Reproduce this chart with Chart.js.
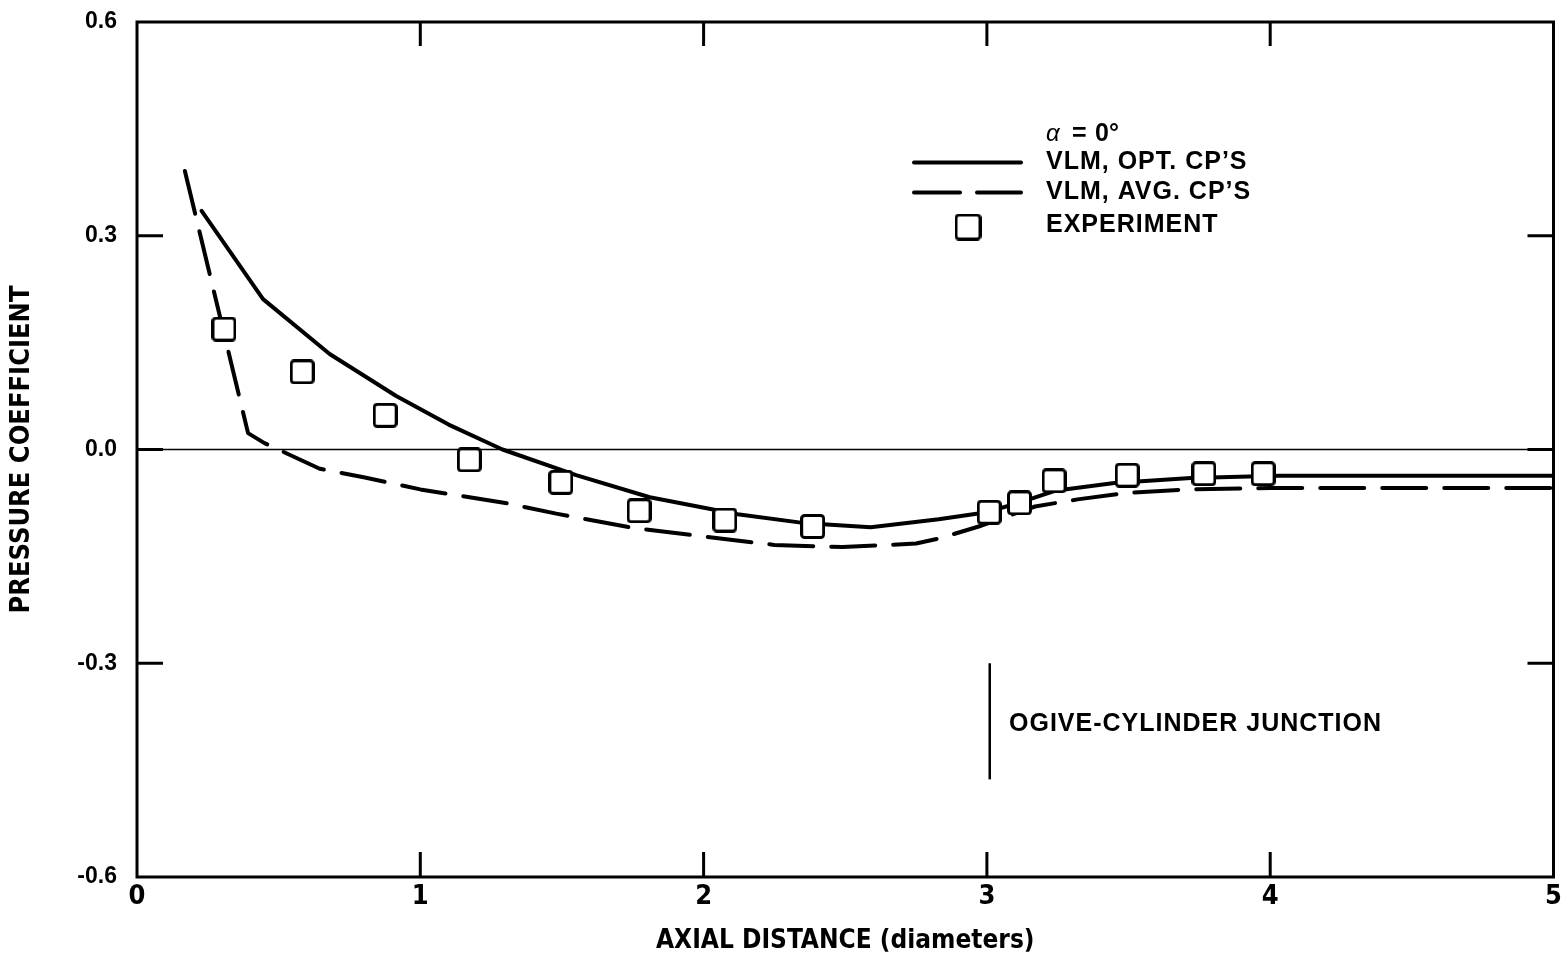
<!DOCTYPE html>
<html><head><meta charset="utf-8">
<script src="https://cdn.jsdelivr.net/npm/chart.js@4.4.1/dist/chart.umd.min.js"></script>
<style>html,body{margin:0;padding:0;background:#fff}#wrap{width:1567px;height:954px}</style>
</head><body><div id="wrap"><canvas id="c" width="1567" height="954"></canvas></div>
<script>
// ---- data ----
const xTickLabels = ['0', '1', '2', '3', '4', '5'];
const yTickLabels = ['-0.6', '-0.3', '0.0', '0.3', '0.6'];
const xTitle = 'AXIAL DISTANCE (diameters)';
const yTitle = 'PRESSURE COEFFICIENT';

const optX = [0.228, 0.445, 0.68, 0.915, 1.10, 1.29, 1.55, 1.81, 2.12, 2.35, 2.59, 2.83, 3.0, 3.12, 3.24, 3.45, 3.72, 4.03, 5.0];
const optY = [0.335, 0.211, 0.134, 0.075, 0.035, 0.0, -0.036, -0.067, -0.091, -0.103, -0.109, -0.098, -0.088, -0.074, -0.058, -0.047, -0.040, -0.037, -0.037];

const avgX = [0.169, 0.392, 0.45, 0.645, 0.80, 1.0, 1.30, 1.48, 1.75, 1.98, 2.25, 2.49, 2.75, 2.83, 2.98, 3.17, 3.32, 3.49, 3.71, 4.0, 5.0];
const avgY = [0.391, 0.023, 0.009, -0.027, -0.039, -0.056, -0.075, -0.090, -0.110, -0.121, -0.134, -0.137, -0.132, -0.125, -0.107, -0.080, -0.070, -0.061, -0.056, -0.054, -0.054];

const expX = [0.307, 0.583, 0.876, 1.173, 1.496, 1.772, 2.075, 2.385, 3.008, 3.115, 3.237, 3.495, 3.766, 3.975];
const expY = [0.169, 0.109, 0.048, -0.0145, -0.046, -0.086, -0.099, -0.108, -0.088, -0.075, -0.044, -0.036, -0.034, -0.034];

const legendHeader = ['α', '=', '0°'];
const legendLabels = ['VLM, OPT. CP’S', 'VLM, AVG. CP’S', 'EXPERIMENT'];
const junctionLabel = 'OGIVE-CYLINDER JUNCTION';
const junctionX = 3.01;
const junctionYRange = [-0.3, -0.463];

// ---- helpers ----
const pts = (xs, ys) => xs.map((x, i) => ({x, y: ys[i]}));
const NARROW = '"Liberation Sans Narrow", "DejaVu Sans Condensed", "Liberation Sans", sans-serif';
const SANS = '"Liberation Sans", Arial, Helvetica, sans-serif';

function squareImage(size, lw, r) {
  const c = document.createElement('canvas');
  c.width = size; c.height = size;
  const g = c.getContext('2d');
  g.fillStyle = '#fff'; g.strokeStyle = '#000'; g.lineWidth = lw;
  g.beginPath();
  g.roundRect(lw / 2, lw / 2, size - lw, size - lw, r);
  g.fill(); g.stroke();
  return c;
}
const markerImg = squareImage(25, 3, 3);
const legendMarkerImg = squareImage(27, 3, 3);

const framePlugin = {
  id: 'frame',
  beforeDatasetsDraw(chart) {
    const {ctx, chartArea: a, scales: {x, y}} = chart;
    ctx.save();
    ctx.strokeStyle = '#000';
    const y0 = y.getPixelForValue(0);
    ctx.lineWidth = 1.5;
    ctx.beginPath(); ctx.moveTo(a.left, y0); ctx.lineTo(a.right, y0); ctx.stroke();
    ctx.lineWidth = 3;
    ctx.beginPath();
    xTickLabels.slice(1, -1).forEach(t => {
      const px = x.getPixelForValue(parseFloat(t));
      ctx.moveTo(px, a.bottom); ctx.lineTo(px, a.bottom - 25);
      ctx.moveTo(px, a.top); ctx.lineTo(px, a.top + 24);
    });
    yTickLabels.slice(1, -1).forEach(t => {
      const py = y.getPixelForValue(parseFloat(t));
      ctx.moveTo(a.left, py); ctx.lineTo(a.left + 26, py);
      ctx.moveTo(a.right, py); ctx.lineTo(a.right - 26, py);
    });
    ctx.stroke();
    ctx.strokeRect(a.left, a.top, a.right - a.left, a.bottom - a.top);
    ctx.restore();
  },
  afterDatasetsDraw(chart) {
    const {ctx, scales: {x, y}} = chart;
    ctx.save();
    ctx.fillStyle = '#000'; ctx.strokeStyle = '#000';
    ctx.textBaseline = 'middle'; ctx.textAlign = 'left';
    ctx.font = 'italic 24px ' + SANS;
    ctx.fillText(legendHeader[0], 1046, 134);
    ctx.font = 'bold 25px ' + SANS;
    ctx.fillText(legendHeader[1], 1072, 134);
    ctx.fillText(legendHeader[2], 1095, 134);
    const rows = [162.5, 192.5, 225];
    ctx.letterSpacing = '1px';
    legendLabels.forEach((t, i) => ctx.fillText(t, 1046, rows[i]));
    ctx.letterSpacing = '0px';
    ctx.lineWidth = 4; ctx.lineCap = 'round';
    ctx.beginPath(); ctx.moveTo(914, rows[0]); ctx.lineTo(1021, rows[0]); ctx.stroke();
    ctx.beginPath(); ctx.moveTo(914, rows[1]); ctx.lineTo(960, rows[1]);
    ctx.moveTo(977, rows[1]); ctx.lineTo(1021, rows[1]); ctx.stroke();
    ctx.drawImage(legendMarkerImg, 968 - 13.5, 227 - 13.5);
    const jx = x.getPixelForValue(junctionX);
    ctx.lineWidth = 2.5; ctx.lineCap = 'butt';
    ctx.beginPath();
    ctx.moveTo(jx, y.getPixelForValue(junctionYRange[0]));
    ctx.lineTo(jx, y.getPixelForValue(junctionYRange[1]));
    ctx.stroke();
    ctx.font = 'bold 25px ' + SANS;
    ctx.letterSpacing = '1px';
    ctx.fillText(junctionLabel, 1009, 724);
    ctx.restore();
  }
};

new Chart(document.getElementById('c'), {
  type: 'scatter',
  data: {
    datasets: [
      {
        label: legendLabels[2], data: pts(expX, expY), order: 0,
        pointStyle: markerImg, pointRadius: 12.5, showLine: false
      },
      {
        label: legendLabels[0], data: pts(optX, optY), order: 1, showLine: true,
        borderColor: '#000', borderWidth: 4, pointRadius: 0, tension: 0,
        borderJoinStyle: 'round', borderCapStyle: 'round', fill: false
      },
      {
        label: legendLabels[1], data: pts(avgX, avgY), order: 2, showLine: true,
        borderColor: '#000', borderWidth: 4, pointRadius: 0, tension: 0,
        borderDash: [44, 18], borderCapStyle: 'round', borderJoinStyle: 'round', fill: false
      }
    ]
  },
  options: {
    responsive: false, animation: false, devicePixelRatio: 1,
    layout: {padding: {left: 0, right: 7, top: 22, bottom: 0}},
    plugins: {legend: {display: false}, tooltip: {enabled: false}},
    scales: {
      x: {
        type: 'linear', min: 0, max: 5,
        afterFit: s => { s.height = 77; s.paddingLeft = 0; s.paddingRight = 0; },
        afterBuildTicks: s => { s.ticks = xTickLabels.map(t => ({value: parseFloat(t)})); },
        grid: {display: false, drawTicks: false}, border: {display: false},
        ticks: {
          padding: 4, color: '#000', maxRotation: 0, autoSkip: false,
          font: {family: NARROW, size: 27, weight: 'bold', lineHeight: 1.2},
          callback: (v, i) => xTickLabels[i]
        },
        title: {
          display: true, text: xTitle, color: '#000',
          font: {family: NARROW, size: 26, weight: 'bold', lineHeight: 1},
          padding: {top: 0, bottom: 0}
        }
      },
      y: {
        type: 'linear', min: -0.6, max: 0.6,
        afterFit: s => { s.width = 137; s.paddingTop = 0; s.paddingBottom = 0; },
        afterBuildTicks: s => { s.ticks = yTickLabels.map(t => ({value: parseFloat(t)})); },
        grid: {display: false, drawTicks: false}, border: {display: false},
        ticks: {
          padding: 20, color: '#000', autoSkip: false,
          font: {family: SANS, size: 23, weight: 'bold'},
          callback: (v, i) => yTickLabels[i]
        },
        title: {
          display: true, text: yTitle, color: '#000',
          font: {family: NARROW, size: 27, weight: 'bold', lineHeight: 1.2},
          padding: {top: 6, bottom: 0}
        }
      }
    }
  },
  plugins: [framePlugin]
});
</script>
</body></html>
